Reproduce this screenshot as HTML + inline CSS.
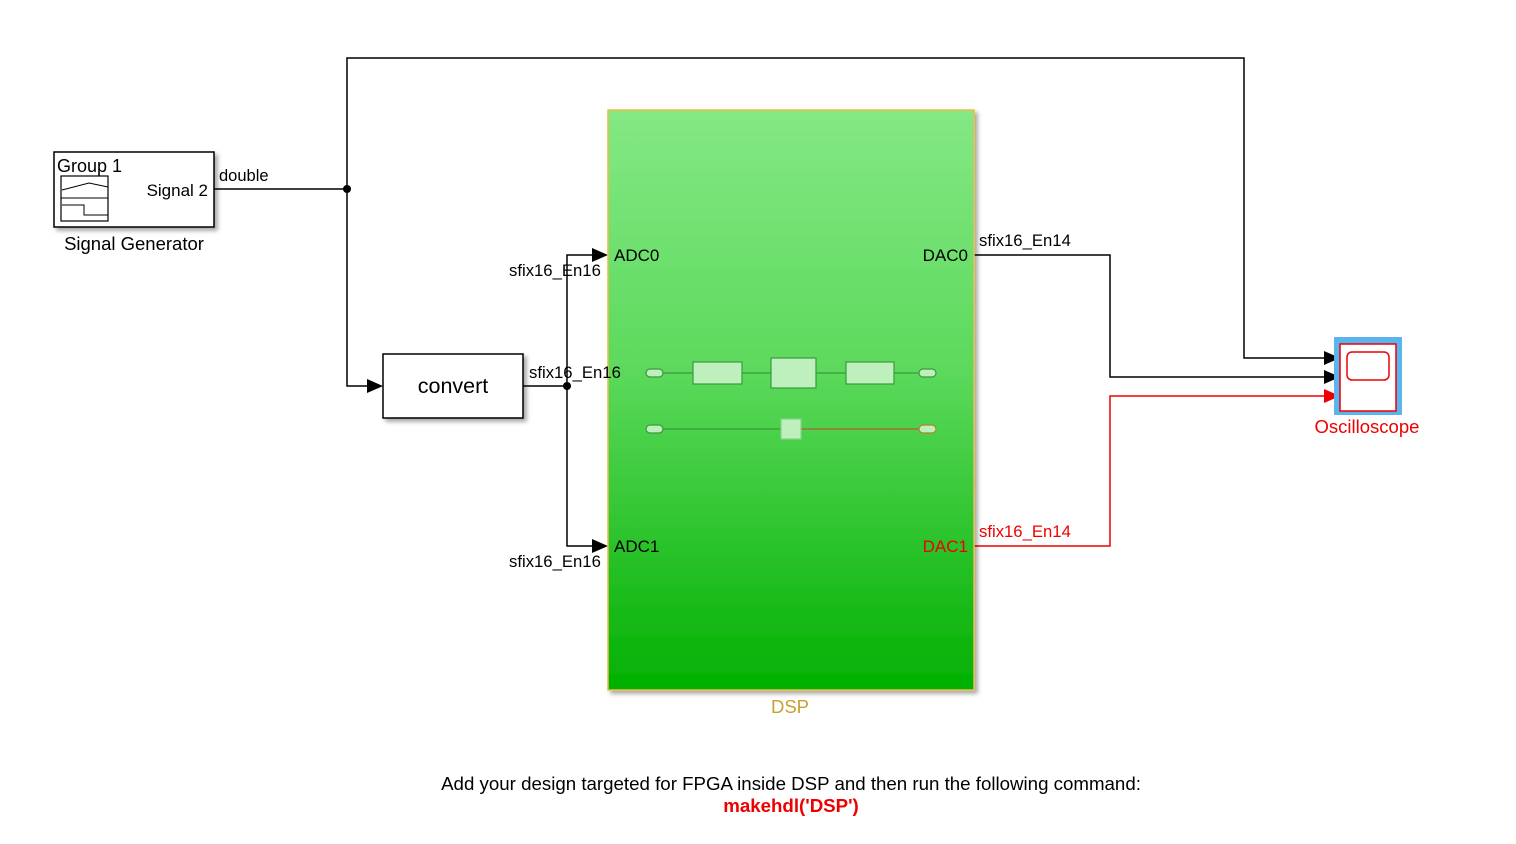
<!DOCTYPE html>
<html><head><meta charset="utf-8"><style>
html,body{margin:0;padding:0;background:#fff}
svg{display:block;font-family:"Liberation Sans",Arial,sans-serif}
</style></head><body>
<svg width="1516" height="844" viewBox="0 0 1516 844" xmlns="http://www.w3.org/2000/svg">
<defs>
<linearGradient id="g" x1="0" y1="0" x2="0" y2="1">
<stop offset="0" stop-color="#84e884"/>
<stop offset="0.45" stop-color="#5cd95c"/>
<stop offset="1" stop-color="#02b002"/>
</linearGradient>
<filter id="sh" x="-10%" y="-10%" width="130%" height="130%"><feDropShadow dx="3" dy="3" stdDeviation="2" flood-color="#000" flood-opacity="0.35"/></filter>
</defs>
<g stroke="#000" stroke-width="1.5" fill="none">
<polyline points="214,189 347,189"/>
<polyline points="347,189 347,58 1244,58 1244,358 1328,358"/>
<polyline points="347,189 347,386 372,386"/>
<polyline points="523,386 567,386"/>
<polyline points="597,255 567,255 567,546 597,546"/>
<polyline points="974,255 1110,255 1110,377 1328,377"/>
</g>
<polyline points="974,546 1110,546 1110,396 1328,396" stroke="#e00" stroke-width="1.5" fill="none"/>
<circle cx="347" cy="189" r="4"/>
<circle cx="567" cy="386" r="4"/>
<g>
<polygon points="367,379 383,386 367,393"/>
<polygon points="592,248 608,255 592,262"/>
<polygon points="592,539 608,546 592,553"/>
<polygon points="1324,351 1340,358 1324,365"/>
<polygon points="1324,370 1340,377 1324,384"/>
<polygon points="1324,389 1340,396 1324,403" fill="#e00"/>
</g>
<rect x="54" y="152" width="160" height="75" fill="#fff" stroke="#000" stroke-width="1.5" filter="url(#sh)"/>
<rect x="61" y="176" width="47" height="45" fill="none" stroke="#000" stroke-width="1.2"/>
<polyline points="62,190 89,183 108,187" fill="none" stroke="#000" stroke-width="1"/>
<line x1="61" y1="198" x2="108" y2="198" stroke="#000"/>
<polyline points="62,205 84,205 84,215 108,215" fill="none" stroke="#000" stroke-width="1"/>
<text x="57" y="172" font-size="18">Group 1</text>
<text x="208" y="196" font-size="17" text-anchor="end">Signal 2</text>
<text x="134" y="250" font-size="18.5" text-anchor="middle">Signal Generator</text>
<text x="219" y="181" font-size="16.5">double</text>
<rect x="383" y="354" width="140" height="64" fill="#fff" stroke="#000" stroke-width="1.5" filter="url(#sh)"/>
<text x="453" y="393" font-size="21.5" text-anchor="middle">convert</text>
<text x="509" y="276" font-size="16.7">sfix16_En16</text>
<text x="509" y="567" font-size="16.7">sfix16_En16</text>
<text x="979" y="246" font-size="16.7">sfix16_En14</text>
<text x="979" y="537" font-size="16.7" fill="#e00">sfix16_En14</text>
<rect x="608" y="110" width="366" height="580" fill="url(#g)" stroke="#e8c040" stroke-width="1.5" filter="url(#sh)"/>
<text x="529" y="378" font-size="16.7">sfix16_En16</text>
<text x="614" y="261" font-size="17">ADC0</text>
<text x="614" y="552" font-size="17">ADC1</text>
<text x="968" y="261" font-size="17" text-anchor="end">DAC0</text>
<text x="968" y="552" font-size="17" text-anchor="end" fill="#e00">DAC1</text>
<g stroke="#3a9a3a" stroke-width="1.2" fill="#bdf0bd">
<line x1="660" y1="373" x2="920" y2="373"/>
<rect x="646" y="369" width="17" height="8" rx="4"/>
<rect x="919" y="369" width="17" height="8" rx="4"/>
<rect x="693" y="362" width="49" height="22"/>
<rect x="771" y="358" width="45" height="30"/>
<rect x="846" y="362" width="48" height="22"/>
<line x1="660" y1="429" x2="781" y2="429"/>
<line x1="801" y1="429" x2="920" y2="429" stroke="#b06030"/>
<rect x="646" y="425" width="17" height="8" rx="4"/>
<rect x="919" y="425" width="17" height="8" rx="4" stroke="#b08030"/>
<rect x="781" y="419" width="20" height="20" stroke="#8ad08a"/>
</g>
<text x="790" y="713" font-size="18.5" text-anchor="middle" fill="#c8a030">DSP</text>
<rect x="1334" y="337" width="68" height="78" fill="#5ab4f0"/>
<rect x="1340" y="344" width="56" height="67" fill="#fff" stroke="#e00" stroke-width="1.5"/>
<rect x="1347" y="352" width="42" height="28" rx="5" fill="none" stroke="#e00" stroke-width="1.5"/>
<text x="1367" y="433" font-size="18.5" text-anchor="middle" fill="#e00">Oscilloscope</text>
<text x="791" y="790" font-size="18.7" text-anchor="middle">Add your design targeted for FPGA inside DSP and then run the following command:</text>
<text x="791" y="812" font-size="18.7" font-weight="bold" text-anchor="middle" fill="#e00">makehdl('DSP')</text>
</svg>
</body></html>
